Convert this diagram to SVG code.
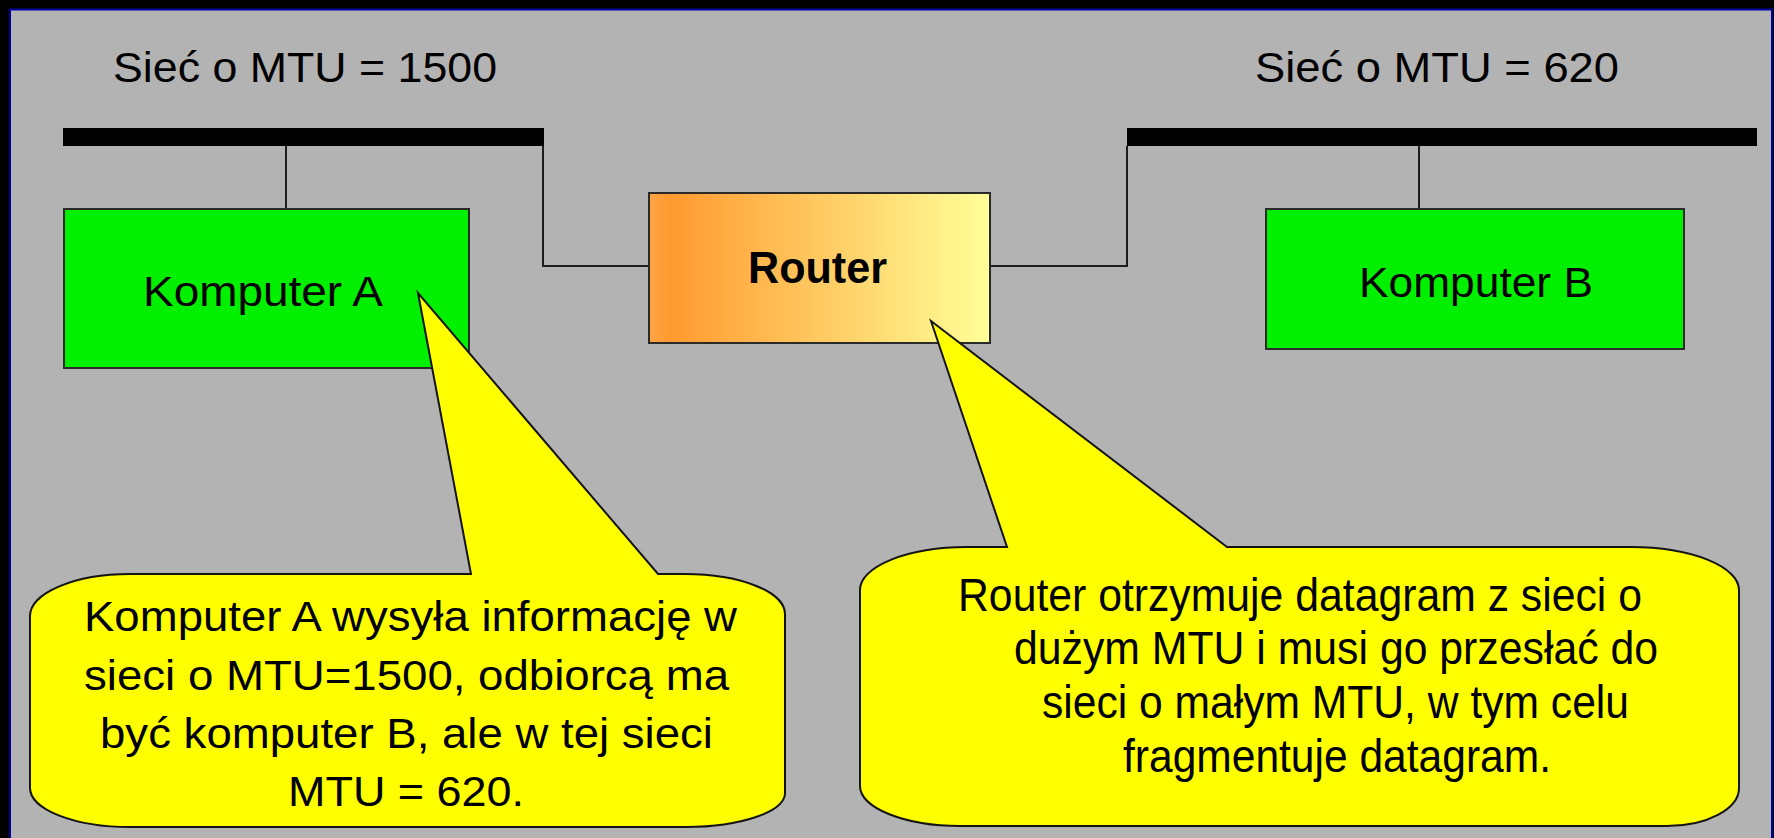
<svg xmlns="http://www.w3.org/2000/svg" width="1774" height="838" viewBox="0 0 1774 838">
<defs>
<linearGradient id="rg" x1="0" y1="0" x2="1" y2="0">
<stop offset="0" stop-color="#FFA444"/>
<stop offset="0.06" stop-color="#FF9A30"/>
<stop offset="1" stop-color="#FFFF99"/>
</linearGradient>
<style>
text{font-family:"Liberation Sans",Arial,sans-serif;fill:#000}
.t{font-size:42px}
.c{font-size:43px}
.d{font-size:46px}
.b{font-size:44px;font-weight:bold}
.box{fill:#00F000;stroke:#2a2a2a;stroke-width:2}
.ln{fill:none;stroke:#1e1e1e;stroke-width:2}
.bus{fill:#000}
.call{fill:#FFFF00;stroke:#141414;stroke-width:2;stroke-linejoin:miter}
</style>
</defs>
<rect x="0" y="0" width="1774" height="838" fill="#000"/>
<rect x="10" y="9.5" width="1762" height="840" fill="#B3B3B3" stroke="#0000A0" stroke-width="2"/>

<g id="labels">
<text class="t" x="113" y="82" textLength="384" lengthAdjust="spacingAndGlyphs">Sieć o MTU = 1500</text>
<text class="t" x="1255" y="82" textLength="364" lengthAdjust="spacingAndGlyphs">Sieć o MTU = 620</text>
</g>

<g id="connectors">
<rect class="bus" x="63" y="128" width="481" height="18"/>
<rect class="bus" x="1127" y="128" width="630" height="18"/>
<path class="ln" d="M286 146 V209"/>
<path class="ln" d="M543 146 V266 H649"/>
<path class="ln" d="M990 266 H1127 V146"/>
<path class="ln" d="M1419 146 V209"/>
</g>

<g id="komputer-a">
<rect class="box" x="64" y="209" width="405" height="159"/>
<text class="t" x="143" y="306" textLength="240" lengthAdjust="spacingAndGlyphs">Komputer A</text>
</g>

<g id="router">
<rect x="649" y="193" width="341" height="150" fill="url(#rg)" stroke="#2a2a2a" stroke-width="2"/>
<text class="b" x="748" y="283" textLength="139" lengthAdjust="spacingAndGlyphs">Router</text>
</g>

<g id="komputer-b">
<rect class="box" x="1266" y="209" width="418" height="140"/>
<text class="t" x="1359" y="297" textLength="234" lengthAdjust="spacingAndGlyphs">Komputer B</text>
</g>

<g id="callout-a">
<path class="call" d="M418 293 L471 574 H130 A100 42 0 0 0 30 616 V788 A100 39 0 0 0 130 827 H686 A99 34 0 0 0 785 793 V614 A100 40 0 0 0 685 574 H658 Z"/>
<text class="c" x="84" y="631" textLength="653" lengthAdjust="spacingAndGlyphs">Komputer A wysyła informację w</text>
<text class="c" x="84" y="690" textLength="645" lengthAdjust="spacingAndGlyphs">sieci o MTU=1500, odbiorcą ma</text>
<text class="c" x="100" y="748" textLength="613" lengthAdjust="spacingAndGlyphs">być komputer B, ale w tej sieci</text>
<text class="c" x="288" y="806" textLength="236" lengthAdjust="spacingAndGlyphs">MTU = 620.</text>
</g>

<g id="callout-b">
<path class="call" d="M931 321 L1007 547 H967 A107 43 0 0 0 860 590 V786 A100 40 0 0 0 960 826 H1667 A72 38 0 0 0 1739 788 V590 A108 43 0 0 0 1631 547 H1227 Z"/>
<text class="d" x="958" y="611" textLength="684" lengthAdjust="spacingAndGlyphs">Router otrzymuje datagram z sieci o</text>
<text class="d" x="1014" y="664" textLength="644" lengthAdjust="spacingAndGlyphs">dużym MTU i musi go przesłać do</text>
<text class="d" x="1042" y="718" textLength="587" lengthAdjust="spacingAndGlyphs">sieci o małym MTU, w tym celu</text>
<text class="d" x="1123" y="772" textLength="428" lengthAdjust="spacingAndGlyphs">fragmentuje datagram.</text>
</g>
</svg>
